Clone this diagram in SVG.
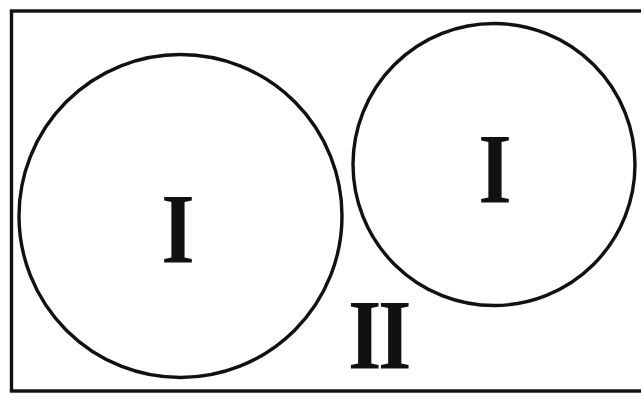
<svg xmlns="http://www.w3.org/2000/svg" width="641" height="397" viewBox="0 0 641 397">
<style>
.ln{fill:none;stroke:#111;stroke-width:3.4}
.lb{font-family:"Liberation Serif","Times New Roman",serif;font-weight:bold;font-size:100px;fill:#111;text-anchor:middle}
</style>
<rect width="641" height="397" fill="#fff"/>
<g id="frame"><rect class="ln" x="11.5" y="11" width="640" height="380"/></g>
<g id="circle-left"><circle class="ln" cx="180.5" cy="216" r="161.5"/><text class="lb" transform="translate(178 262) scale(0.86 1)">I</text></g>
<g id="circle-right"><circle class="ln" cx="494" cy="164.5" r="141"/><text class="lb" transform="translate(495 202) scale(0.86 1)">I</text></g>
<g id="region-II"><text class="lb" transform="translate(378 368) scale(0.86 1)" letter-spacing="-4">II</text></g>
<g id="connectors"></g>
</svg>
